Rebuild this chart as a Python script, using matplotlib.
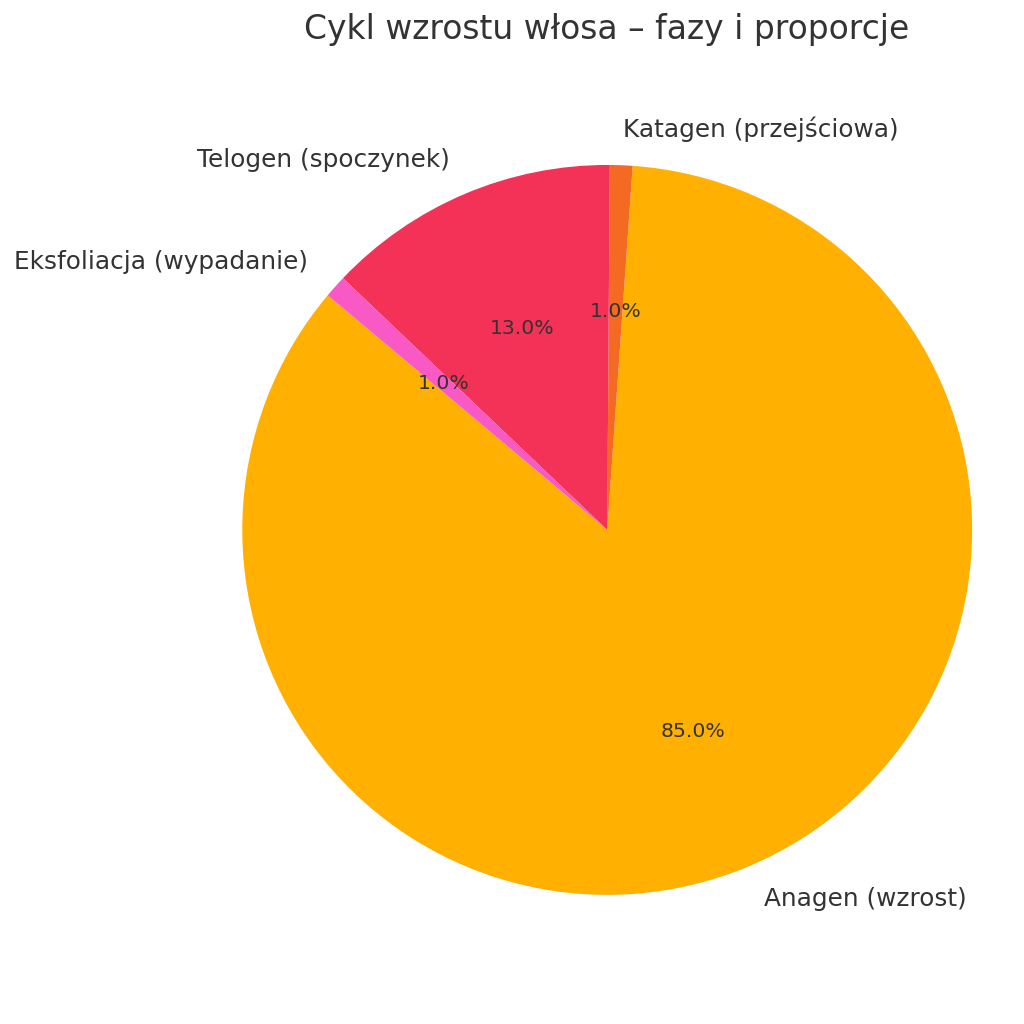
import matplotlib
matplotlib.use("Agg")
import matplotlib.pyplot as plt

# fazy cyklu wzrostu włosa
labels = ["Anagen (wzrost)", "Katagen (przejściowa)", "Telogen (spoczynek)", "Eksfoliacja (wypadanie)"]
sizes = [85, 1, 13, 1]
colors = ["#FFB000", "#F46A22", "#F43157", "#F859C4"]

txt = "#333333"
fig = plt.figure(figsize=(10.24, 10.24), dpi=100)
# axes placed so that the pie sits where it does in the reference
ax = fig.add_axes([0.1475, 0.037, 0.891, 0.891])
wedges, texts, autotexts = ax.pie(sizes, labels=labels, colors=colors,
                                  autopct='%1.1f%%', startangle=140,
                                  textprops={'color': txt})
for t in texts:
    t.set_fontsize(17.8)
for t in autotexts:
    t.set_fontsize(14.7)
ax.axis('equal')
ax.set_xlim(-1.25, 1.25)
ax.set_ylim(-1.25, 1.25)

fig.text(607 / 1024, 1 - 30 / 1024, "Cykl wzrostu włosa – fazy i proporcje",
         ha='center', va='center', fontsize=23.7, color=txt)

fig.savefig("out.png", dpi=100)
